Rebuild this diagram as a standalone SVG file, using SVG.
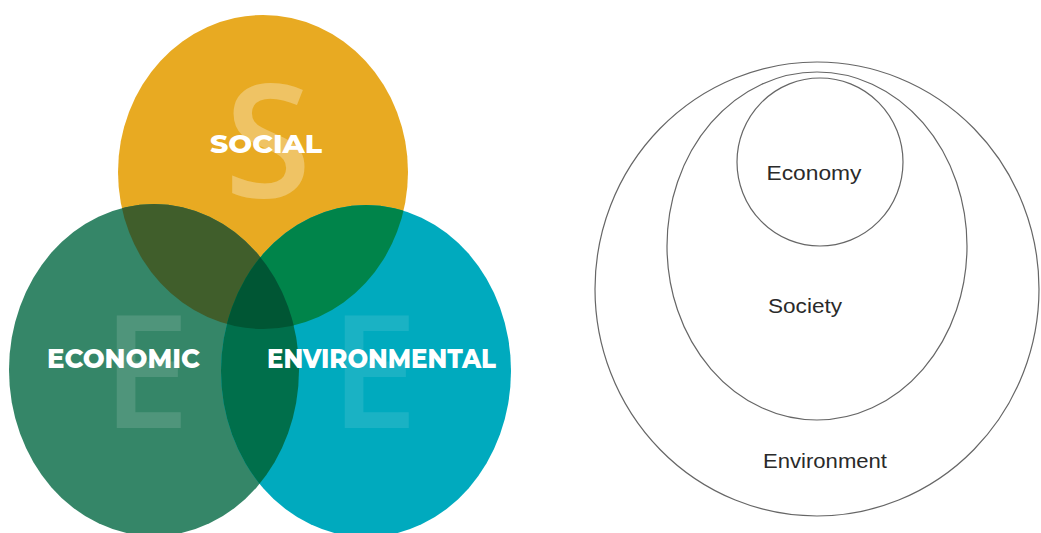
<svg xmlns="http://www.w3.org/2000/svg" width="1041" height="533" viewBox="0 0 1041 533">
<style>
.lbl{font-family:"Montserrat","Liberation Sans",Arial,sans-serif;font-weight:800;fill:#fff}
.big{font-family:"Open Sans","Liberation Sans",sans-serif;font-weight:600}
.ring{fill:none;stroke:#666;stroke-width:1.2}
.t{font-family:"Liberation Sans",Arial,sans-serif;font-size:20px;fill:#2a2a2a}
</style>
<defs>
<clipPath id="cS"><ellipse cx="263" cy="172" rx="145" ry="157"/></clipPath>
<clipPath id="cEc"><ellipse cx="154" cy="370" rx="145" ry="166"/></clipPath>
<clipPath id="cEn"><ellipse cx="366" cy="371" rx="145" ry="166"/></clipPath>
</defs>
<rect width="1041" height="533" fill="#fff"/>
<g id="social">
<ellipse cx="263" cy="172" rx="145" ry="157" fill="#E8AA22"/>
</g>
<g id="economic">
<ellipse cx="154" cy="370" rx="145" ry="166" fill="#358668"/>
</g>
<g id="environmental">
<ellipse cx="366" cy="371" rx="145" ry="166" fill="#00AABE"/>
</g>
<g id="overlaps">
<g clip-path="url(#cS)"><ellipse cx="154" cy="370" rx="145" ry="166" fill="#405E2B"/><ellipse cx="366" cy="371" rx="145" ry="166" fill="#00844A"/></g>
<g clip-path="url(#cEc)"><ellipse cx="366" cy="371" rx="145" ry="166" fill="#006F4B"/></g>
<g clip-path="url(#cS)"><g clip-path="url(#cEc)"><ellipse cx="366" cy="371" rx="145" ry="166" fill="#005634"/></g></g>
</g>
<g id="letters">
<text class="big" x="268" y="197" font-size="158" text-anchor="middle" fill="#fff" fill-opacity="0.3">S</text>
<g clip-path="url(#cEc)"><text class="big" x="146" y="428" font-size="158" text-anchor="middle" fill="#fff" fill-opacity="0.13">E</text></g>
<text class="big" x="374" y="428" font-size="158" text-anchor="middle" fill="#fff" fill-opacity="0.1">E</text>
</g>
<g id="labels">
<text class="lbl" x="210" y="153" font-size="25" textLength="112" lengthAdjust="spacingAndGlyphs">SOCIAL</text>
<text class="lbl" x="47" y="368" font-size="27" textLength="153" lengthAdjust="spacingAndGlyphs">ECONOMIC</text>
<text class="lbl" x="267" y="368" font-size="27" textLength="229" lengthAdjust="spacingAndGlyphs">ENVIRONMENTAL</text>
</g>
<g id="environment">
<ellipse class="ring" cx="817" cy="289" rx="222" ry="227"/>
<text class="t" x="825" y="468" text-anchor="middle" textLength="124" lengthAdjust="spacingAndGlyphs">Environment</text>
</g>
<g id="society">
<ellipse class="ring" cx="817" cy="246" rx="150" ry="174"/>
<text class="t" x="805" y="313" text-anchor="middle" textLength="74" lengthAdjust="spacingAndGlyphs">Society</text>
</g>
<g id="economy">
<ellipse class="ring" cx="820" cy="162" rx="83" ry="84"/>
<text class="t" x="814" y="180" text-anchor="middle" textLength="95" lengthAdjust="spacingAndGlyphs">Economy</text>
</g>
<g id="connectors"></g>
</svg>
